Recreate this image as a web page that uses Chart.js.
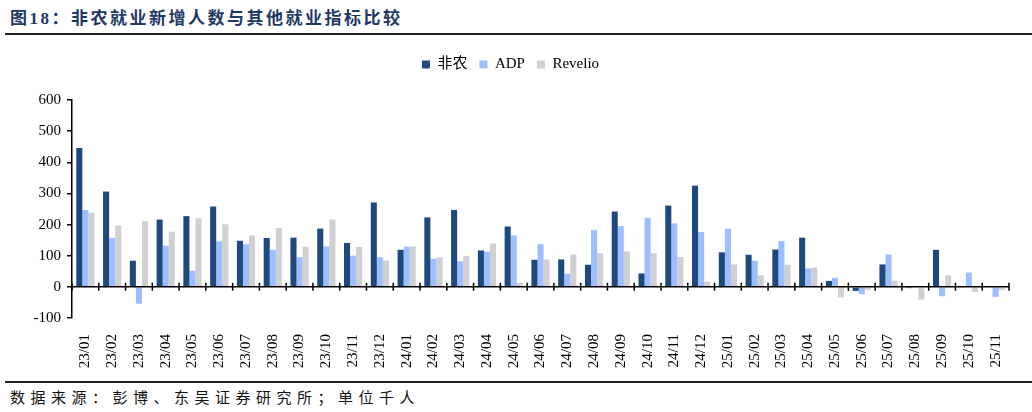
<!DOCTYPE html>
<html>
<head>
<meta charset="utf-8">
<script src="https://cdn.jsdelivr.net/npm/chart.js@4/dist/chart.umd.min.js"></script>
<style>
  html, body { margin: 0; padding: 0; background: #fff; }
  body { width: 1032px; height: 412px; position: relative; overflow: hidden; }
  .title {
    position: absolute; left: 10px; top: 4px;
    font: bold 17px 'Liberation Serif', 'Noto Sans CJK SC', serif;
    letter-spacing: 2.5px; color: #1f3864; white-space: nowrap;
  }
  .rule { position: absolute; left: 5px; right: 0; height: 2px; background: #222; }
  .source {
    position: absolute; left: 10px; top: 386px;
    font: 15px 'Liberation Serif', 'Noto Sans CJK SC', serif;
    letter-spacing: 5.5px; color: #111; white-space: nowrap;
  }
  #wrap { position: absolute; left: 0; top: 40px; width: 1032px; height: 330px; }
</style>
</head>
<body>
<div class="title">图18：非农就业新增人数与其他就业指标比较</div>
<div class="rule" style="top:33px"></div>
<div id="wrap"><canvas id="miGrafica"></canvas></div>
<div class="rule" style="top:381px"></div>
<div class="source">数据来源：彭博、东吴证券研究所；单位千人</div>

<script>
// Datos (miles de personas)
const meses = [
  '23/01','23/02','23/03','23/04','23/05','23/06','23/07','23/08','23/09','23/10','23/11','23/12',
  '24/01','24/02','24/03','24/04','24/05','24/06','24/07','24/08','24/09','24/10','24/11','24/12',
  '25/01','25/02','25/03','25/04','25/05','25/06','25/07','25/08','25/09','25/10','25/11'
];
const noAgricola = [
  446, 306, 84, 216, 227, 258, 148, 157, 158, 187, 141, 271,
  119, 223, 247, 117, 194, 87, 88, 71, 242, 43, 261, 325,
  111, 103, 120, 158, 19, -13, 72, -4, 119, null, null
];
const adp = [
  247, 157, -54, 132, 52, 146, 137, 119, 95, 130, 100, 95,
  129, 90, 82, 113, 165, 137, 42, 182, 195, 222, 204, 176,
  187, 84, 147, 59, 29, -24, 104, null, -30, 46, -32
];
const revelio = [
  238, 197, 211, 177, 220, 201, 165, 189, 129, 216, 128, 85,
  130, 95, 99, 139, 13, 88, 104, 108, 114, 108, 96, 17,
  72, 37, 71, 62, -34, -9, 20, -41, 37, -16, -10
];
const yTicks = { min: -100, max: 600, step: 100 };

const serif = "'Liberation Serif', 'Noto Sans CJK SC', serif";

// Espacio extra debajo de la leyenda
const margenLeyenda = {
  id: 'margenLeyenda',
  beforeInit(chart) {
    const fitOriginal = chart.legend.fit;
    chart.legend.fit = function () {
      fitOriginal.bind(chart.legend)();
      this.height += 18;
    };
  }
};

// Línea de cero con marcas entre categorías
const lineaCero = {
  id: 'lineaCero',
  afterDatasetsDraw(chart) {
    const { ctx, chartArea, scales } = chart;
    const y0 = scales.y.getPixelForValue(0);
    const x = scales.x;
    ctx.save();
    ctx.strokeStyle = '#000';
    ctx.lineWidth = 1.5;
    ctx.beginPath();
    ctx.moveTo(chartArea.left, y0);
    ctx.lineTo(chartArea.right, y0);
    for (let i = 0; i <= meses.length; i++) {
      let px;
      if (i === 0) px = chartArea.left;
      else if (i === meses.length) px = chartArea.right;
      else px = (x.getPixelForValue(i - 1) + x.getPixelForValue(i)) / 2;
      ctx.moveTo(px, y0 - 4);
      ctx.lineTo(px, y0 + 4);
    }
    ctx.stroke();
    ctx.restore();
  }
};

const ctx = document.getElementById('miGrafica').getContext('2d');
new Chart(ctx, {
  type: 'bar',
  data: {
    labels: meses,
    datasets: [
      { label: '非农', data: noAgricola, backgroundColor: '#1f497d' },
      { label: 'ADP', data: adp, backgroundColor: '#9dbfff' },
      { label: 'Revelio', data: revelio, backgroundColor: '#d0d0d0' }
    ]
  },
  options: {
    responsive: true,
    maintainAspectRatio: false,
    animation: false,
    devicePixelRatio: 1,
    layout: { padding: { left: 12, right: 23, top: 5, bottom: 0 } },
    datasets: { bar: { categoryPercentage: 0.68, barPercentage: 1.0 } },
    plugins: {
      tooltip: { enabled: false },
      legend: {
        position: 'top',
        labels: {
          font: { family: serif, size: 15 },
          color: '#000',
          boxWidth: 8,
          boxHeight: 8,
          padding: 12
        }
      }
    },
    scales: {
      x: {
        grid: { display: false },
        border: { display: false },
        ticks: {
          minRotation: 90, maxRotation: 90, autoSkip: false, padding: 8,
          color: '#000',
          font: { family: serif, size: 15 }
        },
        afterFit(scale) { scale.height = 52; }
      },
      y: {
        min: yTicks.min,
        max: yTicks.max,
        border: { display: true, color: '#000', width: 1.5 },
        grid: { drawOnChartArea: false, drawTicks: true, tickLength: 5, color: '#000', lineWidth: 1.5 },
        ticks: {
          stepSize: yTicks.step,
          padding: 6,
          color: '#000',
          font: { family: serif, size: 15 }
        },
        afterFit(scale) { scale.width = 60; }
      }
    }
  },
  plugins: [margenLeyenda, lineaCero]
});
</script>
</body>
</html>
